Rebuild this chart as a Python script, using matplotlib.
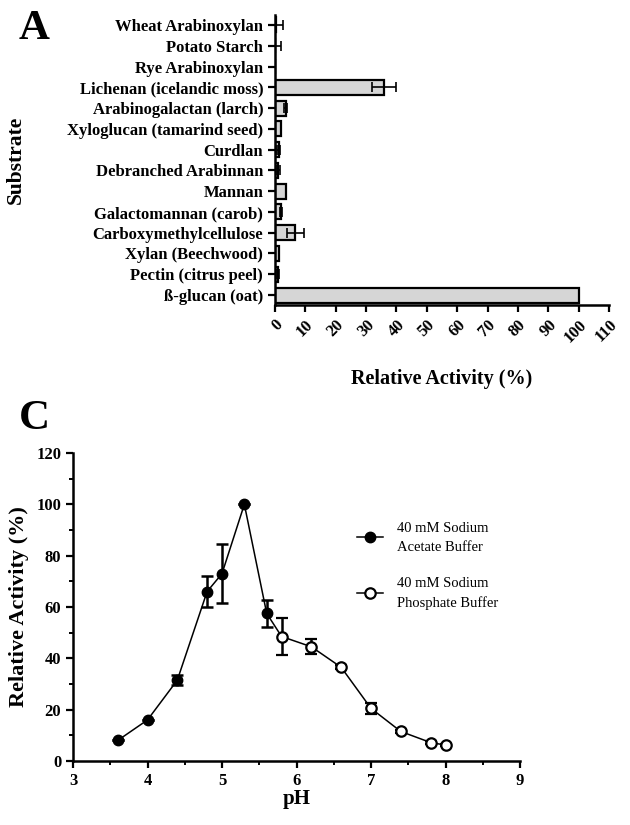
import numpy as np
import matplotlib
matplotlib.use("Agg")
import matplotlib.pyplot as plt
from matplotlib.lines import Line2D

plt.rcParams['font.family'] = ['Liberation Serif', 'DejaVu Serif']
plt.rcParams['font.weight'] = 'bold'
plt.rcParams['axes.labelweight'] = 'bold'

# panel A data (bottom to top)
substrates = ['ß-glucan (oat)', 'Pectin (citrus peel)', 'Xylan (Beechwood)',
              'Carboxymethylcellulose', 'Galactomannan (carob)', 'Mannan',
              'Debranched Arabinnan', 'Curdlan', 'Xyloglucan (tamarind seed)',
              'Arabinogalactan (larch)', 'Lichenan (icelandic moss)',
              'Rye Arabinoxylan', 'Potato Starch', 'Wheat Arabinoxylan']
activity = [100, 0.9, 1.3, 6.7, 1.9, 3.5, 1.1, 1.3, 1.9, 3.5, 36.0, 0.0, 0.0, 0.3]
activity_err = [0, 0.3, 0, 2.7, 0.3, 0, 0.5, 0.5, 0, 0.5, 4.0, 0, 2.0, 2.4]

# panel C data
ph_acetate = [3.6, 4.0, 4.4, 4.8, 5.0, 5.3, 5.6]
act_acetate = [8, 16, 31.5, 66, 73, 100, 57.5]
err_acetate = [0, 0, 2, 6, 11.5, 0, 5.4]
ph_phosphate = [5.8, 6.2, 6.6, 7.0, 7.4, 7.8, 8.0]
act_phosphate = [48.5, 44.5, 36.5, 20.5, 11.5, 7.2, 6.2]
err_phosphate = [7.2, 3, 0.8, 2, 0.5, 0.5, 0.5]
legend_labels = ['40 mM Sodium\nAcetate Buffer', '40 mM Sodium\nPhosphate Buffer']

W, H = 630, 825
fig = plt.figure(figsize=(W / 100, H / 100), dpi=100)


def px_axes(l, t, r, b):
    return fig.add_axes([l / W, 1 - b / H, (r - l) / W, (b - t) / H])


# ---- panel A ----
ax = px_axes(275, 15, 609, 305)
y = np.arange(len(substrates))
ax.barh(y, activity, height=0.72, color='#d6d6d6', edgecolor='black', linewidth=1.6, zorder=2)
ax.errorbar(activity, y, xerr=activity_err, fmt='none', ecolor='black',
            elinewidth=1.2, capsize=3.5, capthick=1.2, zorder=3)
ax.set_xlim(0, 110)
ax.set_ylim(-0.48, len(substrates) - 0.52)
ax.set_xticks(np.arange(0, 111, 10))
ax.set_yticks(y)
ax.set_yticklabels(substrates, fontsize=12)
for lab in ax.get_xticklabels():
    lab.set_rotation(45)
    lab.set_ha('right')
    lab.set_va('top')
    lab.set_rotation_mode('anchor')
    lab.set_fontsize(12)
ax.tick_params(direction='out', length=5, width=1.6)
for s in ['top', 'right']:
    ax.spines[s].set_visible(False)
for s in ['left', 'bottom']:
    ax.spines[s].set_linewidth(1.8)
ax.set_xlabel('Relative Activity (%)', fontsize=14.5)
ax.set_ylabel('Substrate', fontsize=15.5)
ax.xaxis.set_label_coords(0.5, -0.22)
ax.yaxis.set_label_coords(-0.745, 0.5)
fig.text(19 / W, 1 - 10 / H, 'A', fontsize=31, fontweight='bold', va='top', ha='left')

# ---- panel C ----
axc = px_axes(73, 453, 520, 761)
axc.plot(ph_acetate + ph_phosphate, act_acetate + act_phosphate, color='black', lw=1.1, zorder=1)
axc.errorbar(ph_acetate, act_acetate, yerr=err_acetate, fmt='o', color='black',
             ms=7.5, mfc='black', mec='black', elinewidth=1.8, capsize=4, capthick=1.8, zorder=3)
axc.errorbar(ph_phosphate, act_phosphate, yerr=err_phosphate, fmt='o', color='black',
             ms=7.5, mfc='white', mec='black', mew=1.6, elinewidth=1.8, capsize=4, capthick=1.8,
             zorder=3)
axc.set_xlim(3, 9)
axc.set_ylim(0, 120)
axc.set_xticks(range(3, 10))
axc.set_xticks(np.arange(3.5, 9, 1), minor=True)
axc.set_yticks(range(0, 121, 20))
axc.set_yticks(range(10, 120, 20), minor=True)
axc.tick_params(which='major', direction='out', length=5, width=1.6, labelsize=12)
axc.tick_params(which='minor', direction='out', length=3, width=1.4)
for s in ['top', 'right']:
    axc.spines[s].set_visible(False)
for s in ['left', 'bottom']:
    axc.spines[s].set_linewidth(1.8)
axc.set_xlabel('pH', fontsize=15)
axc.set_ylabel('Relative Activity (%)', fontsize=16)
axc.xaxis.set_label_coords(0.5, -0.09)
axc.yaxis.set_label_coords(-0.098, 0.5)

handles = [Line2D([], [], color='black', lw=1.1, marker='o', ms=7.5, mfc='black', mec='black'),
           Line2D([], [], color='black', lw=1.1, marker='o', ms=7.5, mfc='white', mec='black', mew=1.6)]
leg = axc.legend(handles, legend_labels, loc='upper left', bbox_to_anchor=(0.605, 0.82),
                 frameon=False, prop={'weight': 'normal', 'size': 10.5},
                 handlelength=1.8, handletextpad=1.0, labelspacing=1.6)
for t in leg.get_texts():
    t.set_linespacing(1.6)
fig.text(19 / W, 1 - 400 / H, 'C', fontsize=31, fontweight='bold', va='top', ha='left')

fig.savefig('out.png', dpi=100)
